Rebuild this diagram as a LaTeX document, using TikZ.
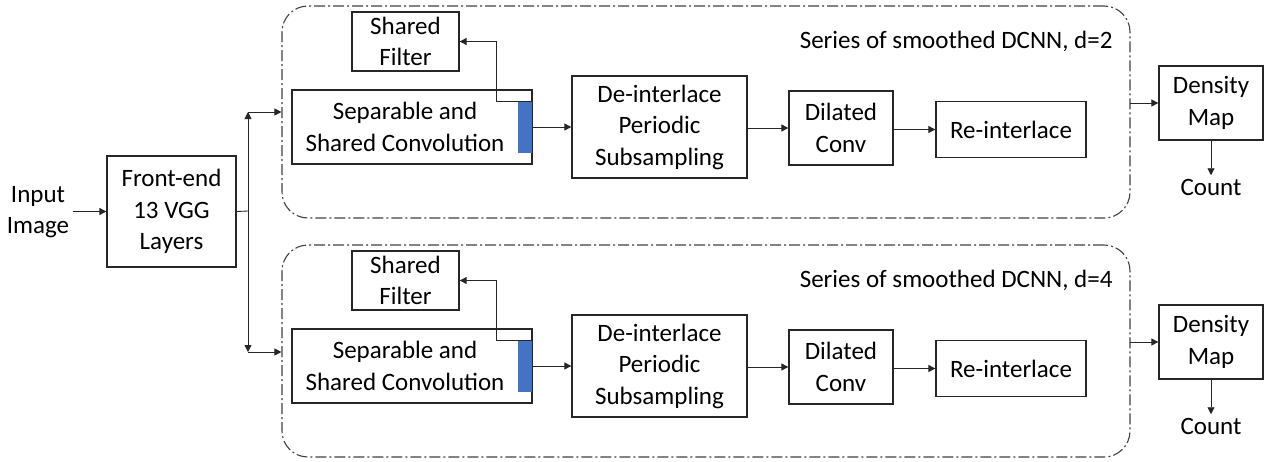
\documentclass[tikz,border=0pt]{standalone}
\usepackage{fontspec}
\setmainfont{Carlito}
\usetikzlibrary{arrows.meta,calc}
\definecolor{barblue}{HTML}{4472C4}
\definecolor{framegray}{HTML}{404040}
\begin{document}
\begin{tikzpicture}[x=1pt,y=-1pt,
  font=\fontsize{25}{31.5}\selectfont,
  box/.style={draw=black!85, line width=1.3pt, align=center, inner sep=0pt},
  panel/.style={draw=framegray, line width=1.1pt, rounded corners=26pt,
    dash pattern=on 11pt off 3pt on 2pt off 3pt, inner sep=0pt},
  link/.style={draw=black!85, line width=0.9pt},
  arr/.style={link, -{Triangle[length=7pt,width=7pt]}}]
\useasboundingbox (0,0) rectangle (1271,461);

% input and front-end
\node[align=center] (in) at (38,212) {Input\\Image};
\node[box, minimum width=129pt, minimum height=111pt] (fe) at (171.5,211.5) {Front-end\\13 VGG\\Layers};
\coordinate (j) at (248,211);
\coordinate (ju) at (248,112);
\coordinate (jd) at (248,352);

% two branches
\foreach \b/\dy/\d in {1/0/2, 2/239/4} {
  \begin{scope}[yshift={-\dy pt}]
  \node[panel, minimum width=848pt, minimum height=212pt] (p\b) at (706,112) {};
  \node[anchor=east] (lab\b) at (1116,41) {Series of smoothed DCNN, d=\d};
  \node[box, minimum width=107pt, minimum height=59pt] (sf\b) at (405.5,41.5) {Shared\\Filter};
  \node[box, minimum width=240pt, minimum height=74pt] (sep\b) at (412,127) {};
  \node[align=center] (sept\b) at (405,127) {Separable and\\Shared Convolution};
  \fill[barblue] (518,102) rectangle (532,153);
  \node[box, minimum width=175pt, minimum height=102pt] (di\b) at (659.5,127) {De-interlace\\Periodic\\Subsampling};
  \node[box, minimum width=104pt, minimum height=74pt] (dc\b) at (841,128) {Dilated\\Conv};
  \node[box, minimum width=150pt, minimum height=56pt] (ri\b) at (1011,129.5) {Re-interlace};
  \node[box, minimum width=104pt, minimum height=74pt] (dm\b) at (1211,103) {Density\\Map};
  \node (ct\b) at (1211,187) {Count};
  \coordinate (pin\b) at (1130,103);
  \coordinate (sfk\b) at (496,101);
  \end{scope}
}

% front-end to both branches
\draw[link] (fe.east) -- (j);
\draw[arr] (j) -- (ju);
\draw[arr] (j) -- (jd);
\draw[arr] (ju) -- (ju -| p1.west);
\draw[arr] (jd) -- (jd -| p2.west);

\foreach \b in {1,2} {
  \draw[arr] (sfk\b -| sep\b.east) -- (sfk\b) |- (sf\b.east);
  \draw[arr] (sep\b.east) -- (di\b.west);
  \draw[arr] (di\b.east |- dc\b.west) -- (dc\b.west);
  \draw[arr] (dc\b.east |- ri\b.west) -- (ri\b.west);
  \draw[arr] (pin\b) -- (pin\b -| dm\b.west);
  \draw[arr] (dm\b.south) -- (ct\b.north);
}
\draw[arr] (in.east |- fe.west) -- (fe.west);
\end{tikzpicture}
\end{document}
